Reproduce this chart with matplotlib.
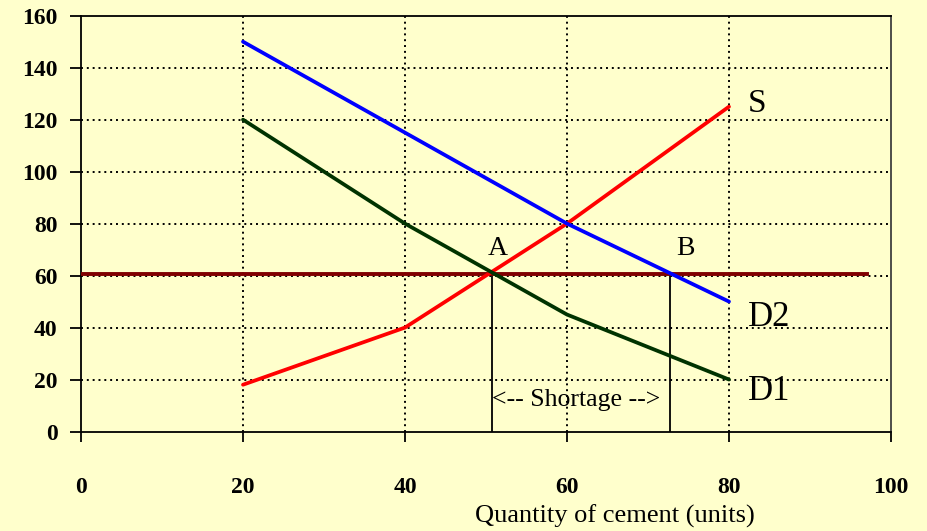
import matplotlib
matplotlib.use("Agg")
import matplotlib.pyplot as plt

# Data
quantity = [20, 40, 60, 80]
supply_S = [18, 40, 80, 125]
demand_D2 = [150, 115, 80, 50]
demand_D1 = [120, 80, 45, 20]
price_ceiling = 60.5
price_line_x = [0, 97]
point_A_q = 50.8
point_B_q = 72.7
x_ticks = [0, 20, 40, 60, 80, 100]
y_ticks = [0, 20, 40, 60, 80, 100, 120, 140, 160]

bg = "#FFFFCC"
fig = plt.figure(figsize=(9.28, 5.31), dpi=100, facecolor=bg)
ax = fig.add_axes([81/928, 1 - 431.5/531, 810/928, 415.8/531])
ax.set_facecolor(bg)

ax.set_xlim(0, 100)
ax.set_ylim(0, 160)

# grid
for x in x_ticks[1:-1]:
    ax.plot([x, x], [0, 160], color="black", lw=1.4, linestyle=(0, (1, 2)), zorder=1)
for y in y_ticks[1:-1]:
    ax.plot([0, 100], [y, y], color="black", lw=1.4, linestyle=(0, (1, 2)), zorder=1)

ax.plot(quantity, supply_S, color="#FF0000", lw=2.7, solid_capstyle="round", zorder=4)
ax.plot(quantity, demand_D2, color="#0000FF", lw=2.7, solid_capstyle="round", zorder=4)
ax.plot(quantity, demand_D1, color="#003300", lw=2.7, solid_capstyle="round", zorder=4)
ax.plot(price_line_x, [price_ceiling, price_ceiling], color="#800000", lw=2.8, zorder=3)

ax.plot([point_A_q, point_A_q], [0, price_ceiling], color="black", lw=1.3, zorder=2)
ax.plot([point_B_q, point_B_q], [0, price_ceiling], color="black", lw=1.3, zorder=2)

serif = "Liberation Serif"
ax.text(quantity[-1] + 2.3, supply_S[-1] + 1.3, "S", fontsize=24, family=serif, va="center", ha="left")
ax.text(quantity[-1] + 2.3, demand_D2[-1] - 6.2, "D2", fontsize=25, family=serif, va="center", ha="left")
ax.text(quantity[-1] + 2.3, demand_D1[-1] - 4.8, "D1", fontsize=25, family=serif, va="center", ha="left")
ax.text(point_A_q + 0.6, price_ceiling + 10.1, "A", fontsize=20, family=serif, va="center", ha="center")
ax.text(point_B_q + 1.9, price_ceiling + 10.1, "B", fontsize=20, family=serif, va="center", ha="center")
ax.text((point_A_q + point_B_q) / 2 - 0.6, 12, "<-- Shortage -->", fontsize=18.5, family=serif,
        va="center", ha="center")

ax.set_xticks(x_ticks)
ax.set_yticks(y_ticks)
ax.set_xticklabels([str(v) for v in x_ticks], fontsize=17, family=serif, fontweight="bold")
ax.set_yticklabels([str(v) for v in y_ticks], fontsize=17, family=serif, fontweight="bold")
ax.tick_params(axis="y", direction="out", length=8, width=1.3, pad=9)
ax.tick_params(axis="x", direction="out", length=7.5, width=1.3, pad=25)

for s in ax.spines.values():
    s.set_linewidth(1.3)
    s.set_color("black")
ax.spines["right"].set_color("#404040")

ax.set_xlabel("Quantity of cement (units)", fontsize=19, family=serif)
ax.xaxis.set_label_coords((615 - 81) / 810, -(516 - 431.5) / 415.8)
ax.xaxis.label.set_verticalalignment("center")

fig.savefig("out.png", dpi=100, facecolor=bg)
